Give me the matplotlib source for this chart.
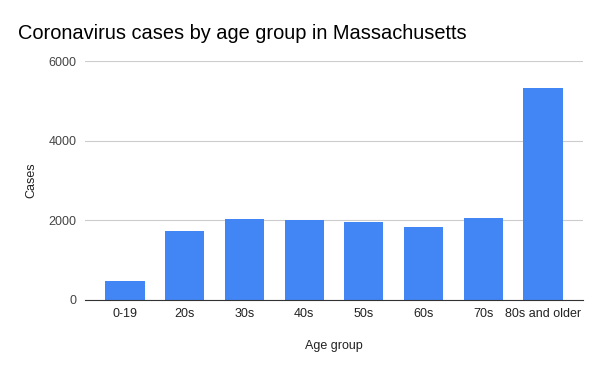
import matplotlib.pyplot as plt
import numpy as np

age_groups = ['0-19', '20s', '30s', '40s', '50s', '60s', '70s', '80s and older']
cases = [480, 1735, 2035, 2010, 1960, 1830, 2060, 5330]
y_ticks = [0, 2000, 4000, 6000]

plt.rcParams['font.family'] = ['Liberation Sans', 'DejaVu Sans']

fig = plt.figure(figsize=(6, 3.71), dpi=100)
ax = fig.add_axes([0.1417, 0.1914, 0.83, 0.6434])

x = np.arange(len(age_groups))
ax.bar(x, cases, width=0.655, color='#4285f4', zorder=3)

ax.set_xlim(-0.67, len(age_groups) - 0.33)
ax.set_ylim(0, 6000)
ax.set_yticks(y_ticks)
ax.set_yticklabels([str(v) for v in y_ticks], fontsize=9, color='#444444')
ax.set_xticks(x)
ax.set_xticklabels(age_groups, fontsize=9, color='#222222')
ax.tick_params(length=0, pad=6)

ax.grid(axis='y', color='#cccccc', linewidth=0.8, zorder=0)
for side in ['top', 'right', 'left']:
    ax.spines[side].set_visible(False)
ax.spines['bottom'].set_color('#333333')
ax.spines['bottom'].set_zorder(4)

ax.set_xlabel('Age group', fontsize=9, color='#222222', labelpad=14)
ax.set_ylabel('Cases', fontsize=9, color='#222222', labelpad=8)

fig.text(0.03, 0.91, 'Coronavirus cases by age group in Massachusetts',
         fontsize=14.4, color='#000000', va='center', ha='left')

fig.savefig('out.png', dpi=100)
